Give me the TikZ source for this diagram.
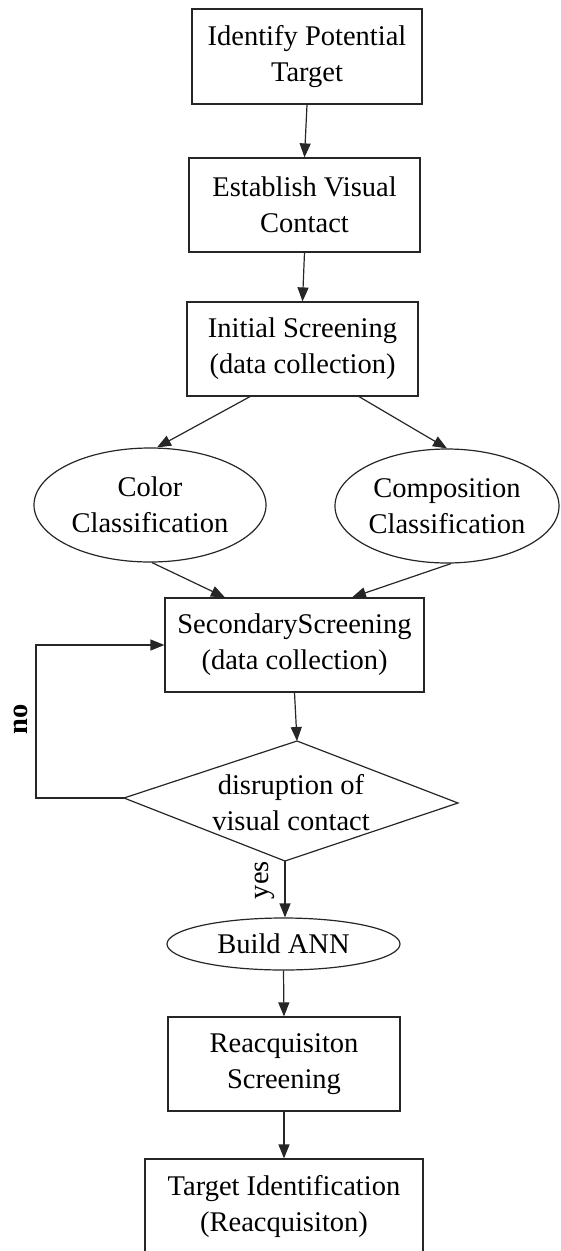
\documentclass[tikz,border=0pt]{standalone}
\usepackage{fontspec}
\setmainfont{Liberation Serif}
\usetikzlibrary{arrows.meta,shapes.geometric,calc}
\begin{document}
\begin{tikzpicture}[x=1pt,y=-1pt,
  every node/.style={font=\fontsize{28.5}{36}\selectfont, text=black},
  box/.style={draw=black!85, line width=1.2pt, rectangle, align=center, inner sep=0pt},
  oval/.style={draw=black!85, line width=1.2pt, ellipse, align=center, inner sep=0pt},
  edge/.style={draw=black!85, line width=1.2pt},
  arr/.style={edge, -{Triangle[length=14pt,width=11pt]}},
  lbl/.style={rotate=90, inner sep=0pt}]
\useasboundingbox (0,0) rectangle (560,1251);
\clip (0,0) rectangle (560,1251);
\node[box, minimum width=230pt, minimum height=95pt] (b1) at (307,56.5) {Identify Potential\\Target};
\node[box, minimum width=231pt, minimum height=94pt] (b2) at (304.5,205) {Establish Visual\\Contact};
\node[box, minimum width=231pt, minimum height=94pt] (b3) at (302.5,349) {Initial Screening\\(data collection)};
\node[oval, minimum width=232pt, minimum height=114pt] (c1) at (150,505) {Color\\Classification};
\node[oval, minimum width=224pt, minimum height=114pt] (c2) at (447,506) {Composition\\Classification};
\node[box, minimum width=259pt, minimum height=94pt] (b4) at (294.5,645) {SecondaryScreening\\(data collection)};
\coordinate (dt) at (297,741);
\coordinate (dr) at (458,803);
\coordinate (db) at (285,861);
\coordinate (dl) at (124,798);
\draw[edge, line join=miter] (dt) -- (dr) -- (db) -- (dl) -- cycle;
\node[align=center, inner sep=0pt] (dtext) at (291,803) {disruption of\\visual contact};
\node[oval, minimum width=233pt, minimum height=52pt] (e3) at (283.5,944) {Build ANN};
\node[box, minimum width=232pt, minimum height=94pt] (b5) at (284,1064) {Reacquisiton\\Screening};
\node[box, minimum width=278pt, minimum height=94pt] (b6) at (284,1206) {Target Identification\\(Reacquisiton)};
\draw[arr] (b1.south) -- (b2.north);
\draw[arr] (b2.south) -- (b3.north);
\draw[arr] ([xshift=-52.5pt]b3.south) -- ([xshift=7pt]c1.north);
\draw[arr] ([xshift=56.5pt]b3.south) -- (c2.north);
\draw[arr] ([xshift=2pt]c1.south) -- ([xshift=-69.5pt]b4.north);
\draw[arr] ([xshift=4pt]c2.south) -- ([xshift=57.5pt]b4.north);
\draw[arr] (b4.south) -- (dt);
\draw[arr] (dl) -- ++(-88,0) |- (b4.west);
\draw[arr] (db) -- (db |- e3.north);
\draw[arr] (e3.south) -- (b5.north);
\draw[arr] (b5.south) -- (b6.north);
\node[lbl, font=\fontsize{28.5}{36}\selectfont\bfseries] (no) at (21,719) {no};
\node[lbl] (yes) at (265,880) {yes};
\end{tikzpicture}
\end{document}
